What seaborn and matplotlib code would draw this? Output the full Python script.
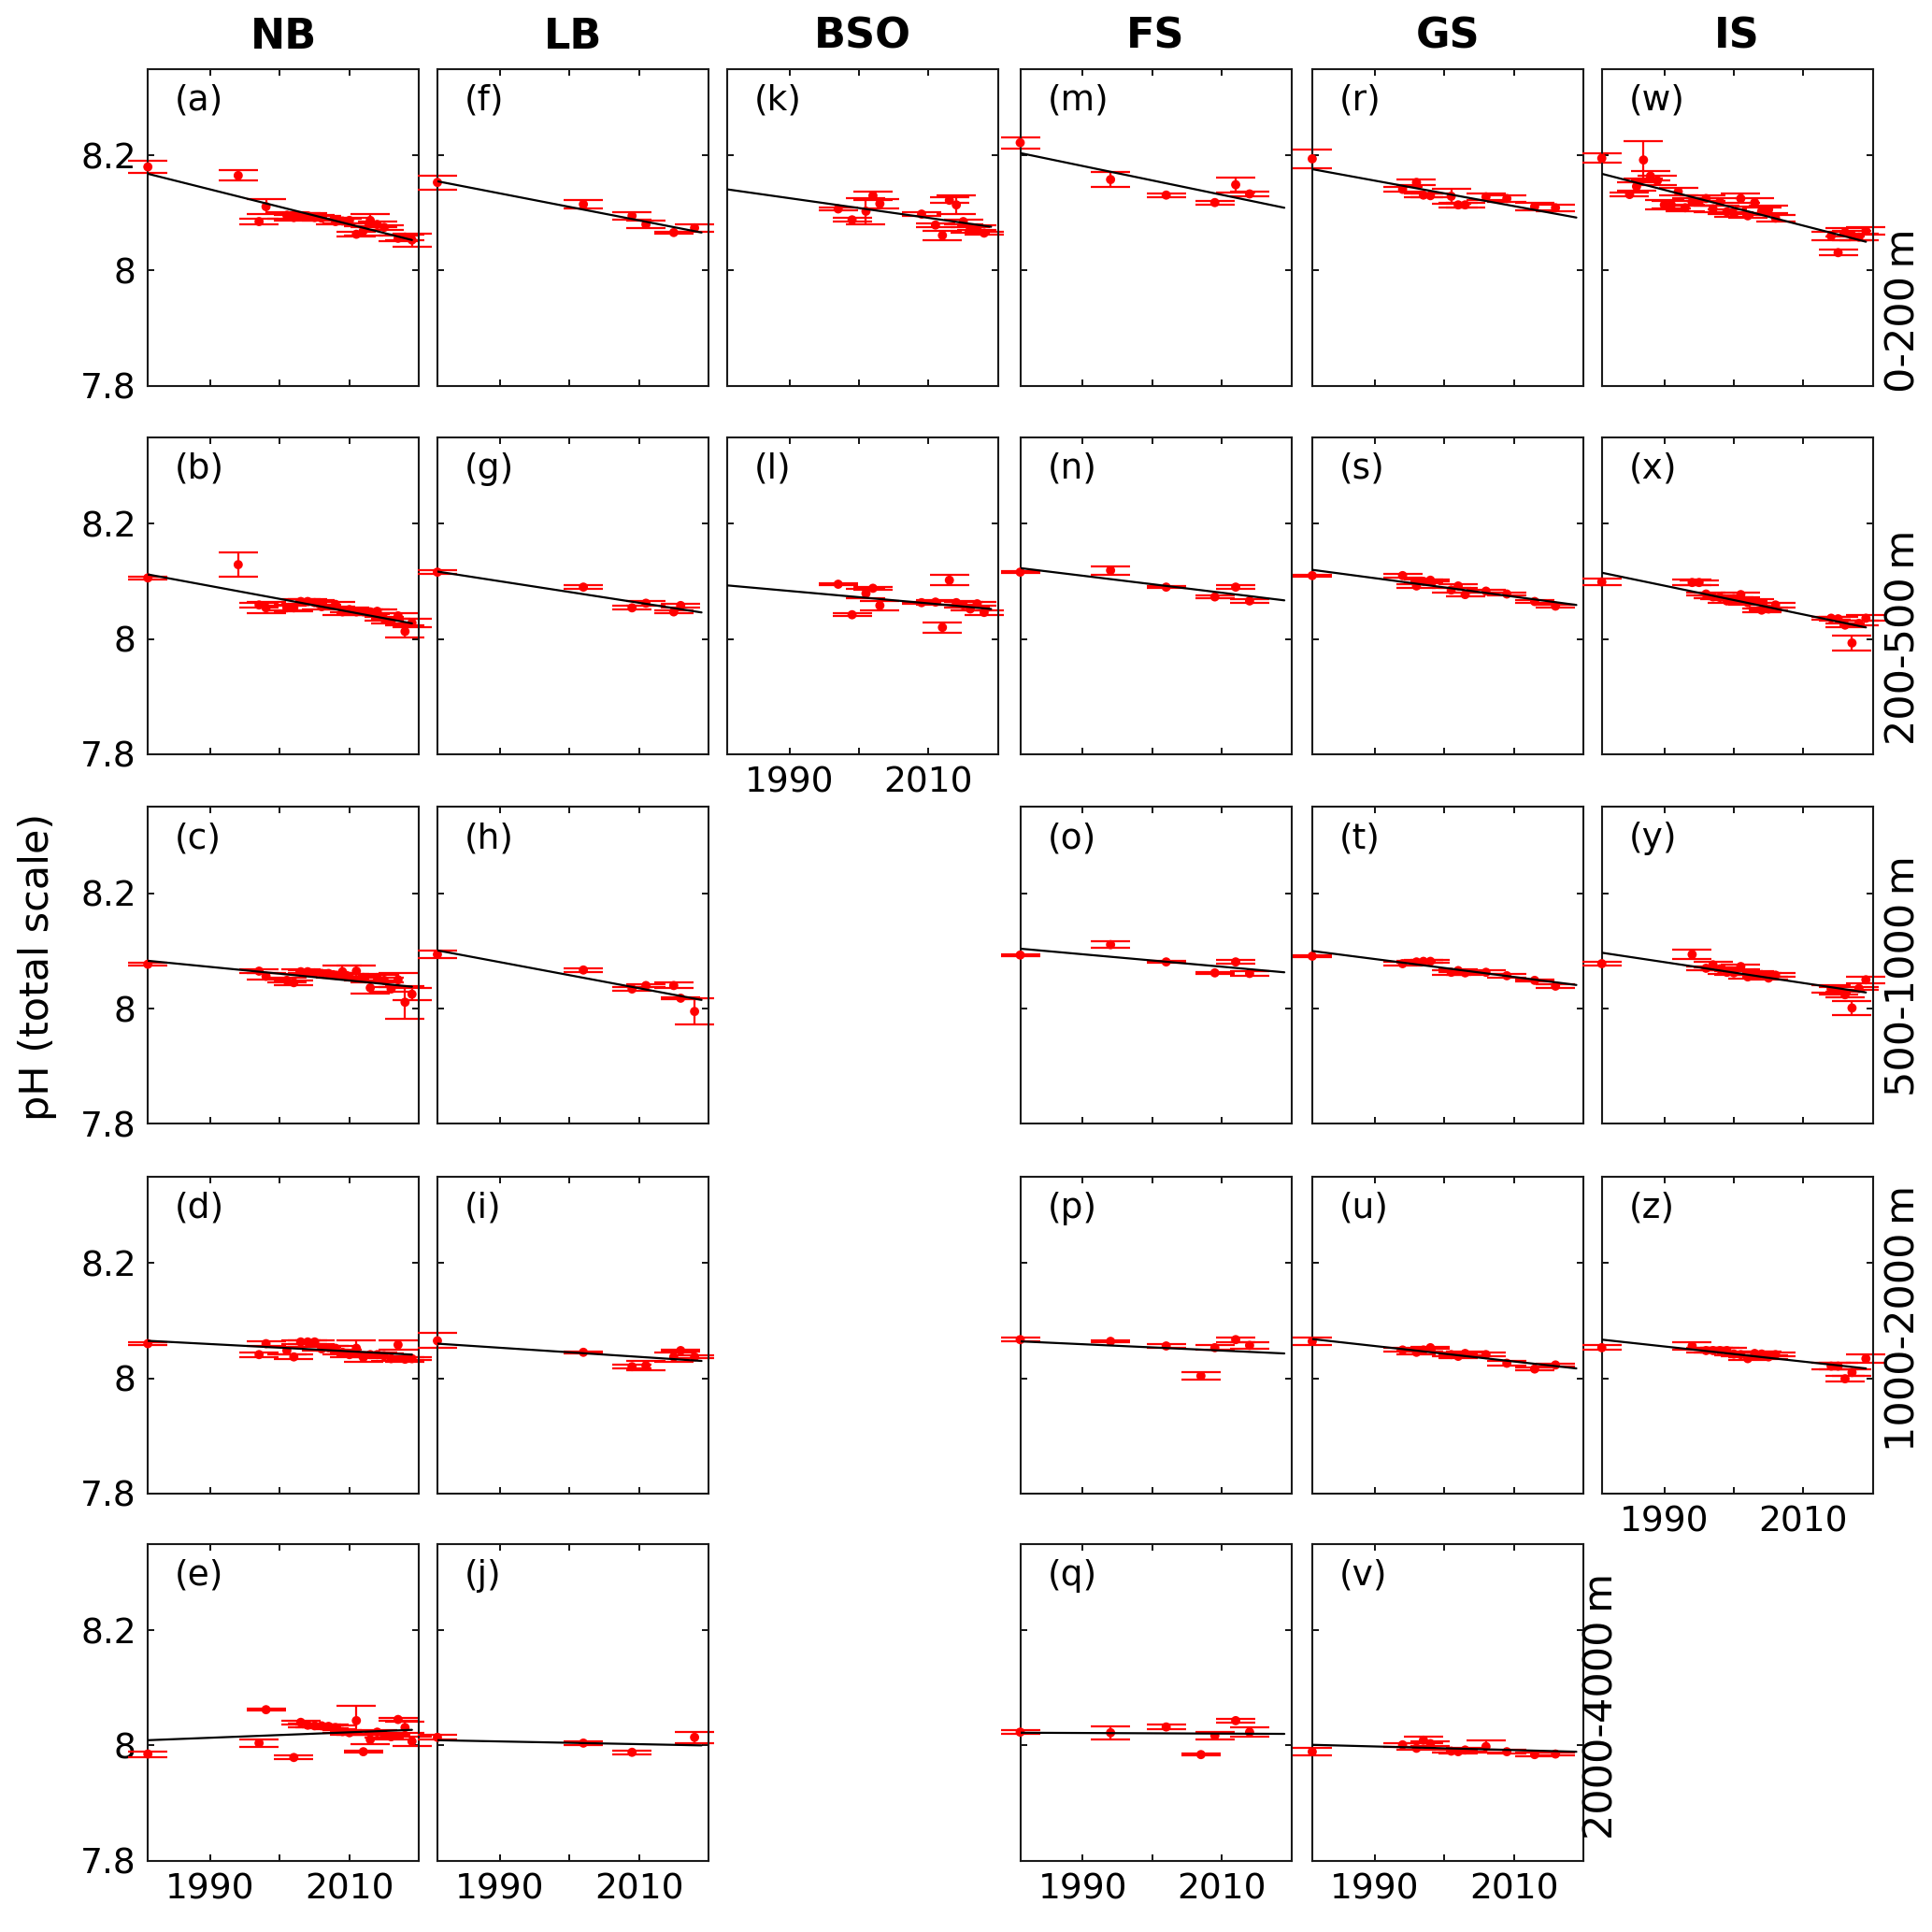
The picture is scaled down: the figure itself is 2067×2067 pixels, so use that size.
import numpy as np
import pandas as pd
import seaborn as sns
import matplotlib.pyplot as plt

# Column (region) names and depth layers
regions = ["NB", "LB", "BSO", "FS", "GS", "IS"]
depth_labels = ["0-200\u2009m", "200-500\u2009m", "500-1000\u2009m", "1000-2000\u2009m", "2000-4000\u2009m"]
region_panels = {"NB": "abcde", "LB": "fghij", "BSO": "kl", "FS": "mnopq", "GS": "rstuv", "IS": "wxyz"}

# NB
a_year = [1981, 1994, 1997, 1998, 2001, 2002, 2003, 2004, 2005, 2006, 2008, 2009, 2010, 2011, 2012, 2013, 2014, 2015, 2017, 2018, 2019]
a_ph = [8.180, 8.165, 8.085, 8.111, 8.096, 8.092, 8.095, 8.095, 8.092, 8.091, 8.085, 8.086, 8.087, 8.063, 8.069, 8.087, 8.080, 8.075, 8.056, 8.058, 8.053]
a_err = [0.011, 0.009, 0.005, 0.013, 0.006, 0.005, 0.005, 0.004, 0.004, 0.004, 0.005, 0.004, 0.005, 0.004, 0.008, 0.011, 0.005, 0.004, 0.005, 0.005, 0.011]

b_year = [1981, 1994, 1997, 1998, 2001, 2002, 2003, 2004, 2005, 2006, 2008, 2009, 2010, 2011, 2012, 2013, 2014, 2015, 2016, 2017, 2018, 2019]
b_ph = [8.106, 8.129, 8.059, 8.054, 8.054, 8.054, 8.065, 8.065, 8.063, 8.056, 8.060, 8.047, 8.051, 8.047, 8.047, 8.047, 8.048, 8.035, 8.031, 8.040, 8.013, 8.028]
b_err = [0.002, 0.021, 0.004, 0.010, 0.004, 0.006, 0.004, 0.004, 0.004, 0.004, 0.004, 0.005, 0.004, 0.004, 0.005, 0.004, 0.004, 0.004, 0.004, 0.005, 0.011, 0.007]

c_year = [1981, 1997, 1998, 2001, 2002, 2003, 2004, 2005, 2006, 2007, 2008, 2009, 2010, 2011, 2012, 2013, 2014, 2015, 2016, 2017, 2018, 2019]
c_ph = [8.077, 8.065, 8.056, 8.049, 8.045, 8.064, 8.064, 8.062, 8.061, 8.061, 8.058, 8.064, 8.056, 8.065, 8.054, 8.036, 8.054, 8.049, 8.034, 8.050, 8.011, 8.025]
c_err = [0.003, 0.004, 0.006, 0.004, 0.004, 0.004, 0.003, 0.003, 0.003, 0.003, 0.004, 0.010, 0.004, 0.010, 0.006, 0.010, 0.005, 0.004, 0.004, 0.012, 0.028, 0.010]

d_year = [1981, 1997, 1998, 2001, 2002, 2003, 2004, 2005, 2006, 2007, 2008, 2009, 2010, 2011, 2012, 2013, 2014, 2015, 2016, 2017, 2018, 2019]
d_ph = [8.060, 8.041, 8.060, 8.048, 8.037, 8.063, 8.063, 8.063, 8.051, 8.053, 8.052, 8.045, 8.041, 8.052, 8.036, 8.041, 8.041, 8.039, 8.034, 8.058, 8.033, 8.034]
d_err = [0.003, 0.004, 0.004, 0.006, 0.004, 0.003, 0.003, 0.003, 0.003, 0.003, 0.004, 0.004, 0.004, 0.013, 0.008, 0.004, 0.004, 0.004, 0.004, 0.008, 0.004, 0.003]

e_year = [1981, 1997, 1998, 2002, 2003, 2004, 2005, 2006, 2007, 2008, 2009, 2010, 2011, 2012, 2013, 2014, 2015, 2016, 2017, 2018, 2019]
e_ph = [7.985, 8.004, 8.062, 7.979, 8.040, 8.035, 8.034, 8.034, 8.033, 8.031, 8.024, 8.022, 8.043, 7.989, 8.010, 8.023, 8.018, 8.015, 8.045, 8.031, 8.007]
e_err = [0.005, 0.006, 0.002, 0.003, 0.003, 0.003, 0.003, 0.003, 0.003, 0.003, 0.003, 0.003, 0.025, 0.002, 0.008, 0.003, 0.004, 0.004, 0.002, 0.010, 0.008]

# LB
f_year = [1981, 2002, 2009, 2011, 2015, 2018]
f_ph = [8.153, 8.115, 8.095, 8.080, 8.066, 8.074]
f_err = [0.012, 0.007, 0.006, 0.007, 0.002, 0.006]

g_year = [1981, 2002, 2009, 2011, 2015, 2016]
g_ph = [8.116, 8.090, 8.054, 8.062, 8.047, 8.058]
g_err = [0.003, 0.003, 0.003, 0.004, 0.003, 0.003]

h_year = [1981, 2002, 2009, 2011, 2015, 2016, 2018]
h_ph = [8.094, 8.067, 8.034, 8.040, 8.040, 8.018, 7.995]
h_err = [0.006, 0.003, 0.003, 0.003, 0.005, 0.002, 0.023]

i_year = [1981, 2002, 2009, 2011, 2015, 2016, 2018]
i_ph = [8.065, 8.045, 8.020, 8.022, 8.037, 8.048, 8.037]
i_err = [0.013, 0.002, 0.003, 0.008, 0.008, 0.002, 0.002]

j_year = [1981, 2002, 2009, 2018]
j_ph = [8.014, 8.004, 7.988, 8.014]
j_err = [0.004, 0.003, 0.003, 0.010]

# BSO
k_year = [1997, 1999, 2001, 2002, 2003, 2009, 2011, 2012, 2013, 2014, 2015, 2016, 2017, 2018]
k_ph = [8.107, 8.088, 8.103, 8.130, 8.116, 8.098, 8.079, 8.061, 8.122, 8.114, 8.085, 8.071, 8.074, 8.065]
k_err = [0.002, 0.003, 0.022, 0.007, 0.008, 0.003, 0.003, 0.008, 0.005, 0.016, 0.004, 0.005, 0.004, 0.002]

l_year = [1997, 1999, 2001, 2002, 2003, 2009, 2011, 2012, 2013, 2014, 2015, 2016, 2017, 2018]
l_ph = [8.095, 8.042, 8.079, 8.088, 8.058, 8.063, 8.064, 8.020, 8.102, 8.063, 8.059, 8.052, 8.061, 8.046]
l_err = [0.002, 0.002, 0.008, 0.002, 0.008, 0.002, 0.004, 0.009, 0.009, 0.003, 0.005, 0.003, 0.003, 0.004]

# FS
m_year = [1981, 1994, 2002, 2009, 2012, 2014]
m_ph = [8.222, 8.158, 8.131, 8.118, 8.149, 8.133]
m_err = [0.010, 0.013, 0.003, 0.003, 0.013, 0.004]

n_year = [1981, 1994, 2002, 2009, 2012, 2014]
n_ph = [8.116, 8.119, 8.090, 8.073, 8.090, 8.066]
n_err = [0.002, 0.007, 0.002, 0.002, 0.003, 0.003]

o_year = [1981, 1994, 2002, 2009, 2012, 2014]
o_ph = [8.093, 8.111, 8.081, 8.062, 8.081, 8.061]
o_err = [0.002, 0.006, 0.002, 0.002, 0.003, 0.004]

p_year = [1981, 1994, 2002, 2007, 2009, 2012, 2014]
p_ph = [8.067, 8.064, 8.056, 8.004, 8.053, 8.067, 8.057]
p_err = [0.003, 0.002, 0.003, 0.007, 0.004, 0.004, 0.006]

q_year = [1981, 1994, 2002, 2007, 2009, 2012, 2014]
q_ph = [8.023, 8.022, 8.032, 7.984, 8.017, 8.043, 8.023]
q_err = [0.003, 0.011, 0.004, 0.002, 0.006, 0.003, 0.008]

# GS
r_year = [1981, 1994, 1996, 1997, 1998, 2001, 2002, 2003, 2006, 2009, 2013, 2016]
r_ph = [8.194, 8.141, 8.153, 8.131, 8.130, 8.129, 8.114, 8.114, 8.128, 8.125, 8.111, 8.109]
r_err = [0.016, 0.004, 0.005, 0.003, 0.003, 0.013, 0.004, 0.004, 0.005, 0.006, 0.006, 0.006]

s_year = [1981, 1994, 1996, 1997, 1998, 2001, 2002, 2003, 2006, 2009, 2013, 2016]
s_ph = [8.110, 8.110, 8.092, 8.100, 8.102, 8.085, 8.092, 8.077, 8.083, 8.078, 8.065, 8.057]
s_err = [0.002, 0.003, 0.003, 0.003, 0.002, 0.004, 0.003, 0.003, 0.002, 0.003, 0.002, 0.003]

t_year = [1981, 1994, 1996, 1997, 1998, 2001, 2002, 2003, 2006, 2009, 2013, 2016]
t_ph = [8.091, 8.078, 8.081, 8.082, 8.082, 8.063, 8.066, 8.062, 8.063, 8.057, 8.049, 8.039]
t_err = [0.002, 0.003, 0.002, 0.002, 0.002, 0.004, 0.003, 0.003, 0.003, 0.003, 0.002, 0.003]

u_year = [1981, 1994, 1996, 1997, 1998, 2001, 2002, 2003, 2006, 2009, 2013, 2016]
u_ph = [8.064, 8.049, 8.045, 8.049, 8.053, 8.041, 8.038, 8.043, 8.041, 8.026, 8.016, 8.023]
u_err = [0.006, 0.003, 0.003, 0.002, 0.002, 0.003, 0.003, 0.003, 0.003, 0.004, 0.002, 0.002]

v_year = [1981, 1994, 1996, 1997, 1998, 2001, 2002, 2003, 2006, 2009, 2013, 2016]
v_ph = [7.989, 8.001, 7.995, 8.009, 8.003, 7.990, 7.989, 7.992, 7.998, 7.989, 7.984, 7.985]
v_err = [0.007, 0.003, 0.003, 0.006, 0.004, 0.003, 0.003, 0.003, 0.010, 0.003, 0.003, 0.003]

# IS
w_year = [1981, 1985, 1986, 1987, 1988, 1989, 1990, 1991, 1992, 1993, 1994, 1995, 1996, 1997, 1998,
          1999, 2000, 2001, 2002, 2003, 2004, 2005, 2006, 2014, 2015, 2016, 2017, 2018, 2019]
w_ph = [8.195, 8.132, 8.146, 8.192, 8.164, 8.156, 8.114, 8.114, 8.137, 8.109, 8.119, 8.119, 8.125, 8.107, 8.119,
        8.102, 8.098, 8.125, 8.095, 8.118, 8.103, 8.106, 8.091, 8.060, 8.031, 8.066, 8.061, 8.058, 8.069]
w_err = [0.008, 0.003, 0.008, 0.033, 0.008, 0.008, 0.008, 0.006, 0.006, 0.006, 0.006, 0.006, 0.005, 0.006, 0.006,
         0.004, 0.004, 0.008, 0.004, 0.007, 0.007, 0.007, 0.006, 0.008, 0.005, 0.007, 0.008, 0.006, 0.006]

x_year = [1981, 1994, 1995, 1996, 1997, 1998, 1999, 2000, 2001, 2002, 2003, 2004, 2005, 2006, 2014, 2015, 2016, 2017, 2018, 2019]
x_ph = [8.099, 8.098, 8.098, 8.078, 8.073, 8.072, 8.066, 8.070, 8.077, 8.063, 8.066, 8.050, 8.052, 8.059, 8.036, 8.035, 8.024, 7.993, 8.027, 8.036]
x_err = [0.006, 0.005, 0.004, 0.003, 0.003, 0.003, 0.003, 0.003, 0.004, 0.003, 0.003, 0.003, 0.003, 0.004, 0.003, 0.004, 0.003, 0.013, 0.004, 0.005]

y_year = [1981, 1994, 1996, 1997, 1998, 1999, 2000, 2001, 2002, 2003, 2004, 2005, 2006, 2014, 2015, 2016, 2017, 2018, 2019]
y_ph = [8.078, 8.094, 8.070, 8.076, 8.069, 8.063, 8.062, 8.073, 8.055, 8.062, 8.059, 8.053, 8.058, 8.034, 8.031, 8.024, 8.001, 8.035, 8.050]
y_err = [0.003, 0.008, 0.003, 0.005, 0.003, 0.003, 0.003, 0.004, 0.003, 0.003, 0.003, 0.003, 0.003, 0.006, 0.006, 0.005, 0.012, 0.003, 0.006]

z_year = [1981, 1994, 1996, 1997, 1998, 1999, 2000, 2001, 2002, 2003, 2004, 2005, 2006, 2014, 2015, 2016, 2017, 2019]
z_ph = [8.053, 8.056, 8.048, 8.048, 8.048, 8.048, 8.042, 8.041, 8.034, 8.043, 8.042, 8.037, 8.041, 8.021, 8.021, 7.999, 8.010, 8.034]
z_err = [0.004, 0.007, 0.004, 0.004, 0.004, 0.004, 0.003, 0.003, 0.003, 0.004, 0.004, 0.003, 0.003, 0.005, 0.005, 0.005, 0.006, 0.007]

# Linear trend, evaluated at first and last year (panels a..z)
trend_years = [1981, 2019]
trend_1981 = [8.168, 8.112, 8.083, 8.065, 8.009, 8.155, 8.117, 8.101, 8.060, 8.009, 8.141, 8.093, 8.204,
              8.123, 8.104, 8.064, 8.022, 8.176, 8.120, 8.100, 8.068, 8.001, 8.168, 8.115, 8.097, 8.067]
trend_2019 = [8.053, 8.027, 8.038, 8.041, 8.027, 8.066, 8.046, 8.015, 8.030, 8.000, 8.076, 8.052, 8.109,
              8.067, 8.063, 8.043, 8.020, 8.092, 8.059, 8.041, 8.017, 7.989, 8.050, 8.020, 8.028, 8.017]

panel_data = {
    "a": (a_year, a_ph, a_err), "b": (b_year, b_ph, b_err), "c": (c_year, c_ph, c_err),
    "d": (d_year, d_ph, d_err), "e": (e_year, e_ph, e_err), "f": (f_year, f_ph, f_err),
    "g": (g_year, g_ph, g_err), "h": (h_year, h_ph, h_err), "i": (i_year, i_ph, i_err),
    "j": (j_year, j_ph, j_err), "k": (k_year, k_ph, k_err), "l": (l_year, l_ph, l_err),
    "m": (m_year, m_ph, m_err), "n": (n_year, n_ph, n_err), "o": (o_year, o_ph, o_err),
    "p": (p_year, p_ph, p_err), "q": (q_year, q_ph, q_err), "r": (r_year, r_ph, r_err),
    "s": (s_year, s_ph, s_err), "t": (t_year, t_ph, t_err), "u": (u_year, u_ph, u_err),
    "v": (v_year, v_ph, v_err), "w": (w_year, w_ph, w_err), "x": (x_year, x_ph, x_err),
    "y": (y_year, y_ph, y_err), "z": (z_year, z_ph, z_err),
}
letters = "abcdefghijklmnopqrstuvwxyz"

sns.set_theme(style="ticks")
plt.rcParams["font.family"] = ["DejaVu Sans"]
plt.rcParams["text.color"] = "black"
plt.rcParams["xtick.color"] = "black"
plt.rcParams["ytick.color"] = "black"
FS = 27

fig = plt.figure(figsize=(20.67, 20.67), dpi=100)

# layout in reference pixels (1568 px wide)
W = 1568.0
col_left = [120, 355, 590, 828, 1065, 1300]
row_top = [56, 355, 655, 955, 1253]
ax_w, ax_h = 220, 257
# where the depth labels sit (reference pixels)
depth_x = [1545, 1545, 1545, 1545, 1300]
depth_y = [252, 517, 792, 1070, 1385]

for ci, region in enumerate(regions):
    panels = region_panels[region]
    for ri, letter in enumerate(panels):
        rect = [col_left[ci] / W, 1 - (row_top[ri] + ax_h) / W, ax_w / W, ax_h / W]
        ax = fig.add_axes(rect)
        yrs, ph, err = panel_data[letter]
        df = pd.DataFrame({"year": yrs, "pH": ph})

        ax.errorbar(yrs, ph, yerr=err, fmt="none", ecolor="red", elinewidth=1.6,
                    capsize=15, capthick=1.6, clip_on=False, zorder=2)
        sns.scatterplot(data=df, x="year", y="pH", color="red", s=50, edgecolor="none",
                        ax=ax, clip_on=False, zorder=3)
        idx = letters.index(letter)
        tr = pd.DataFrame({"year": trend_years, "pH": [trend_1981[idx], trend_2019[idx]]})
        sns.lineplot(data=tr, x="year", y="pH", color="black", lw=1.6, ax=ax, zorder=4)

        ax.set_xlim(1981, 2020)
        ax.set_ylim(7.8, 8.35)
        ax.set_xticks([1990, 2000, 2010])
        ax.set_yticks([7.8, 8.0, 8.2])
        ax.tick_params(direction="in", length=5, width=1.3, top=True, right=True,
                       labelsize=FS, pad=9)
        if ci == 0:
            ax.set_yticklabels(["7.8", "8", "8.2"])
        else:
            ax.set_yticklabels([])
        if ri == len(panels) - 1:
            ax.set_xticklabels(["1990", "", "2010"])
        else:
            ax.set_xticklabels([])
        ax.set_xlabel("")
        ax.set_ylabel("")
        for sp in ax.spines.values():
            sp.set_linewidth(1.5)
            sp.set_color("#1a1a1a")

        ax.text(0.1, 0.9, f"({letter})", transform=ax.transAxes, fontsize=FS,
                ha="left", va="center")

        if ri == 0:
            ax.set_title(region, fontsize=32, fontweight="bold", pad=16)

for ri, label in enumerate(depth_labels):
    fig.text(depth_x[ri] / W, 1 - depth_y[ri] / W, label, rotation=90, fontsize=31,
             ha="center", va="center")

fig.text(30 / W, 1 - 785 / W, "pH (total scale)", rotation=90, fontsize=31,
         ha="center", va="center")

fig.savefig("out.png", dpi=100)
